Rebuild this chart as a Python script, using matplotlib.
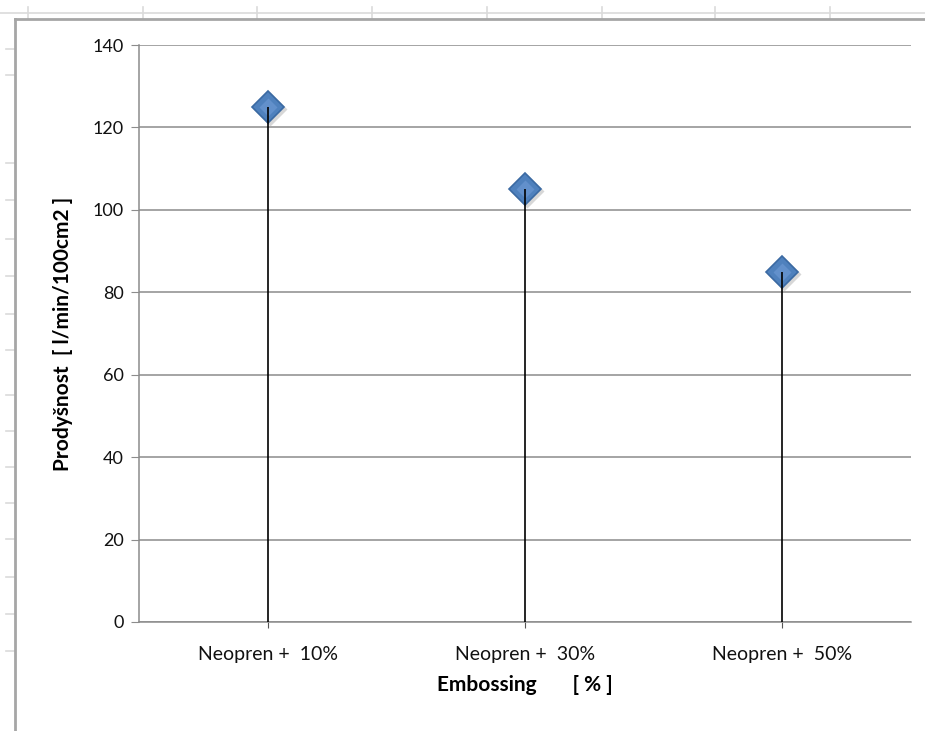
import matplotlib.pyplot as plt
from matplotlib.lines import Line2D
from matplotlib.transforms import ScaledTranslation

# embossing level vs. air permeability
categories = ["Neopren +  10%", "Neopren +  30%", "Neopren +  50%"]
prodysnost = [125, 105, 85]
y_ticks = [0, 20, 40, 60, 80, 100, 120, 140]

plt.rcParams['font.family'] = ['Lato', 'DejaVu Sans']

W, H = 925, 731
fig = plt.figure(figsize=(W / 100, H / 100), dpi=100)

def fx(px):
    return px / W

def fy(py):
    return 1 - py / H

# spreadsheet grid behind the chart object
sheet = '#dadada'
fig.add_artist(Line2D([0, 1], [fy(13), fy(13)], color=sheet, lw=1.2))
for x in [28, 143, 257, 372, 487, 602, 715, 830]:
    fig.add_artist(Line2D([fx(x), fx(x)], [fy(7), fy(19)], color=sheet, lw=1.2))
for y in [49, 75, 163, 200, 239, 276, 314, 350, 395, 431, 467, 503, 539, 577, 614, 651]:
    fig.add_artist(Line2D([fx(6), fx(15)], [fy(y), fy(y)], color=sheet, lw=1.2))

# chart frame
frame = '#a6a6a6'
fig.add_artist(Line2D([fx(15), 1], [fy(19), fy(19)], color=frame, lw=2))
fig.add_artist(Line2D([fx(15), fx(15)], [fy(19), 0], color=frame, lw=2))

ax = fig.add_axes([fx(139), 1 - 622 / H, 772 / W, 577 / H])
x = list(range(len(categories)))

ax.set_ylim(0, 140)
ax.set_xlim(-0.5, len(categories) - 0.5)
ax.set_yticks(y_ticks)
ax.set_xticks(x)
ax.set_xticklabels(categories)
ax.yaxis.grid(True, color='#8c8c8c', lw=1.1)
ax.set_axisbelow(True)

for s in ['top', 'right']:
    ax.spines[s].set_visible(False)
for s in ['left', 'bottom']:
    ax.spines[s].set_color('#8c8c8c')
    ax.spines[s].set_linewidth(1.1)

ax.tick_params(axis='y', length=6, color='#8c8c8c', labelsize=13, pad=5, labelcolor='#111111')
ax.tick_params(axis='x', length=4, color='#555555', labelsize=14, pad=13, labelcolor='#111111')

# diamond markers with a soft shadow, then the drop lines
shadow = ax.transData + ScaledTranslation(1.5 / 72, -1.5 / 72, fig.dpi_scale_trans)
ax.plot(x, prodysnost, ls='none', marker='D', ms=17, mfc='#b0b0b0',
        mec='none', alpha=0.5, zorder=3, clip_on=False, transform=shadow)
ax.plot(x, prodysnost, ls='none', marker='D', ms=16.5, mfc='#4f81bd',
        mec='#3b6aa3', mew=1.2, zorder=4, clip_on=False)
ax.plot(x, prodysnost, ls='none', marker='D', ms=9, mfc='#6f9bd6',
        mec='none', alpha=0.6, zorder=4, clip_on=False)
ax.vlines(x, 0, prodysnost, color='black', lw=1.2, zorder=5)

ax.set_ylabel('Prodyšnost  [ l/min/100cm2 ]', fontsize=15, fontweight='bold', labelpad=14)
ax.set_xlabel('Embossing       [ % ]', fontsize=15, fontweight='bold', labelpad=9)

plt.savefig('out.png', dpi=100)
